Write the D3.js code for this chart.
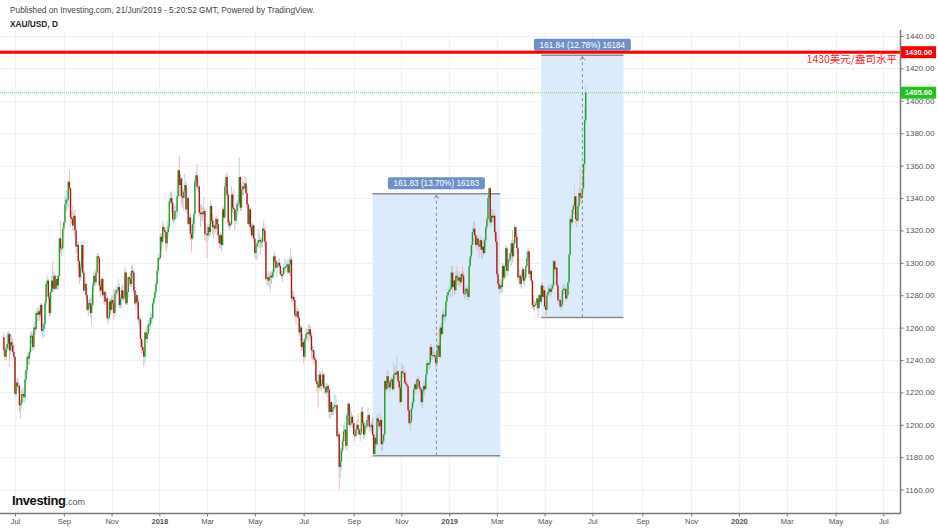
<!DOCTYPE html>
<html><head><meta charset="utf-8">
<script src="https://cdn.jsdelivr.net/npm/d3@7"></script>
<style>
html,body{margin:0;padding:0;background:#fff;}
svg{display:block;font-family:"Liberation Sans",Arial,sans-serif;}
</style></head><body>
<svg id="chart" width="938" height="528"></svg>
<script>
// ---- DATA (daily XAU/USD candles, one line per week Mon..Fri) ----
const startDate = "2017-06-19";
const opens = [
1254,1246,1242,1247,1250, 1256,1246,1251,1249,1245, 1242,1219,1226,1224,1224, 1212,1213,1219,1219,1217,
1228,1234,1242,1241,1245, 1255,1255,1248,1260,1259, 1269,1268,1270,1268,1274, 1258,1259,1262,1275,1287,
1289,1279,1269,1282,1289, 1284,1292,1284,1290,1286, 1292,1315,1309,1309,1321, 1325,1336,1339,1339,1350,
1346,1328,1327,1323,1329, 1320,1310,1311,1301,1291, 1297,1311,1294,1283,1287, 1280,1271,1275,1275,1269,
1274,1286,1292,1288,1294, 1304,1303,1286,1283,1290, 1280,1282,1276,1278,1266, 1266,1276,1271,1277,1275,
1269,1281,1283,1283,1285, 1274,1278,1283,1278,1279, 1294,1275,1282,1291,1290, 1287,1295,1294,1283,1275,
1280,1276,1265,1265,1253, 1248,1246,1242,1257,1253, 1256,1262,1262,1266,1266, 1275,1278,1282,1287,1295,
1303,1303,1316,1313,1322, 1320,1319,1312,1319,1322, 1338,1340,1337,1327,1327, 1332,1332,1341,1357,1348,
1352,1341,1340,1344,1348, 1333,1340,1324,1328,1318, 1315,1324,1330,1350,1354, 1347,1347,1331,1330,1331,
1330,1332,1318,1318,1317, 1322,1319,1335,1326,1322, 1323,1321,1327,1324,1317, 1312,1317,1311,1333,1328,
1347,1353,1342,1325,1323, 1324,1342,1334,1333,1326, 1332,1336,1337,1353,1334, 1345,1347,1346,1349,1343,
1336,1324,1333,1322,1317, 1323,1315,1306,1310,1312, 1314,1314,1313,1313,1321, 1320,1313,1290,1291,1289,
1291,1292,1291,1294,1304, 1301,1297,1299,1300,1298, 1293,1292,1293,1297,1297, 1298,1299,1294,1299,1302,
1278,1279,1277,1268,1267, 1270,1266,1257,1260,1248, 1251,1242,1253,1256,1257, 1256,1259,1255,1246,1246,
1241,1240,1227,1225,1223, 1231,1224,1225,1231,1223, 1223,1220,1224,1222,1208, 1214,1208,1210,1211,1212,
1212,1193,1194,1174,1177, 1184,1190,1196,1197,1187, 1206,1213,1200,1201,1205, 1201,1194,1193,1197,1200,
1197,1194,1195,1208,1201, 1194,1199,1199,1203,1206, 1199,1199,1200,1194,1182, 1192,1188,1204,1202,1199,
1203,1188,1190,1194,1227, 1222,1230,1226,1223,1227, 1228,1222,1231,1232,1231, 1233,1227,1223,1214,1233,
1232,1232,1226,1225,1224, 1209,1201,1202,1210,1214, 1222,1225,1222,1228,1227, 1223,1222,1214,1221,1224,
1222,1231,1238,1237,1238, 1248,1243,1243,1243,1242, 1238,1246,1249,1242,1260, 1256,1268,1267,1267,1276,
1280,1282,1283,1284,1294, 1285,1289,1283,1292,1291, 1289,1291,1288,1293,1292, 1281,1281,1284,1283,1279,
1298,1304,1311,1319,1321, 1317,1311,1315,1311,1310, 1314,1308,1310,1306,1314, 1322,1327,1340,1346,1325,
1329,1328,1329,1319,1313, 1293,1287,1284,1286,1285, 1298,1291,1298,1309,1295, 1302,1302,1306,1312,1304,
1312,1322,1316,1309,1291, 1292,1287,1291,1296,1289, 1291,1298,1303,1307,1293, 1295,1289,1274,1273,1274,
1275,1278,1272,1280,1276, 1286,1279,1283,1273,1271, 1280,1282,1284,1282,1284, 1286,1301,1296,1297,1286,
1277,1277,1273,1274,1283, 1284,1284,1278,1280,1288, 1305,1327,1325,1333,1335, 1341,1327,1326,1335,1343,
1341,1340,1346,1361,1388
];
const highs = [
1257,1249,1250,1257,1258, 1257,1256,1256,1253,1250, 1242,1228,1229,1228,1226, 1215,1222,1223,1222,1233,
1236,1244,1244,1247,1257, 1258,1257,1262,1264,1270, 1272,1273,1271,1275,1275, 1263,1264,1277,1288,1292,
1290,1281,1284,1292,1301, 1295,1293,1292,1292,1293, 1316,1326,1312,1322,1326, 1341,1345,1344,1351,1357,
1346,1332,1335,1331,1333, 1322,1313,1313,1303,1299, 1313,1311,1295,1291,1288, 1281,1277,1278,1278,1281,
1288,1294,1296,1295,1306, 1306,1304,1289,1291,1291, 1283,1283,1282,1279,1268, 1278,1278,1280,1280,1284,
1283,1286,1285,1290,1287, 1280,1285,1287,1283,1297, 1295,1283,1292,1292,1294, 1298,1299,1296,1285,1285,
1281,1278,1268,1266,1253, 1252,1248,1258,1261,1259, 1265,1265,1270,1269,1276, 1279,1284,1289,1296,1306,
1305,1318,1318,1326,1324, 1322,1321,1326,1324,1339, 1344,1344,1340,1335,1336, 1336,1345,1358,1366,1355,
1353,1345,1346,1355,1350, 1346,1341,1331,1330,1323, 1327,1332,1352,1356,1361, 1352,1348,1336,1336,1335,
1341,1334,1320,1323,1324, 1324,1338,1336,1330,1326, 1325,1329,1329,1327,1318, 1319,1318,1335,1334,1349,
1355,1356,1345,1327,1326, 1347,1343,1345,1330,1337, 1339,1342,1365,1352,1348, 1352,1350,1354,1353,1347,
1337,1335,1334,1324,1325, 1324,1315,1311,1313,1321, 1318,1316,1315,1322,1326, 1322,1314,1293,1295,1294,
1294,1295,1296,1305,1307, 1302,1301,1302,1303,1300, 1295,1297,1299,1303,1301, 1302,1301,1303,1309,1304,
1283,1282,1279,1271,1273, 1272,1267,1262,1261,1256, 1253,1254,1259,1260,1262, 1262,1261,1257,1249,1248,
1243,1242,1231,1226,1234, 1233,1228,1234,1232,1226, 1225,1226,1225,1222,1218, 1215,1213,1214,1219,1218,
1213,1198,1195,1186,1186, 1192,1200,1202,1197,1207, 1214,1213,1210,1208,1206, 1201,1200,1201,1204,1207,
1198,1198,1211,1211,1203, 1202,1201,1205,1211,1207, 1201,1203,1205,1196,1193, 1194,1206,1207,1203,1208,
1205,1194,1195,1228,1227, 1234,1233,1228,1229,1230, 1229,1239,1236,1237,1243, 1234,1230,1225,1238,1237,
1237,1234,1233,1228,1225, 1211,1205,1213,1217,1225, 1226,1227,1229,1230,1229, 1225,1223,1224,1227,1227,
1234,1240,1239,1241,1250, 1250,1247,1248,1245,1244, 1248,1251,1259,1262,1263, 1270,1272,1270,1277,1282,
1285,1286,1290,1298,1298, 1294,1290,1295,1298,1295, 1294,1293,1295,1298,1295, 1284,1285,1286,1284,1302,
1305,1313,1322,1326,1325, 1318,1317,1317,1313,1317, 1315,1313,1315,1316,1323, 1329,1342,1347,1347,1333,
1333,1330,1331,1321,1316, 1295,1290,1290,1289,1300, 1299,1299,1311,1310,1303, 1306,1309,1314,1320,1314,
1324,1323,1318,1310,1296, 1293,1293,1298,1297,1294, 1299,1307,1309,1309,1297, 1296,1289,1280,1277,1276,
1279,1277,1281,1281,1288, 1288,1286,1285,1276,1282, 1286,1286,1287,1287,1288, 1302,1302,1300,1298,1288,
1281,1279,1278,1286,1287, 1286,1287,1284,1288,1306, 1329,1329,1336,1337,1348, 1341,1331,1337,1346,1359,
1345,1352,1362,1397,1410
];
const lows = [
1243,1240,1240,1245,1248, 1236,1243,1245,1243,1240, 1218,1217,1221,1220,1208, 1204,1210,1214,1214,1214,
1226,1231,1237,1237,1243, 1250,1246,1246,1255,1257, 1264,1265,1264,1266,1256, 1254,1254,1260,1273,1284,
1277,1267,1267,1281,1282, 1282,1283,1283,1284,1283, 1291,1306,1304,1307,1316, 1323,1331,1332,1334,1344,
1322,1324,1320,1318,1316, 1306,1306,1296,1287,1289, 1295,1293,1282,1281,1277, 1270,1267,1272,1266,1261,
1272,1284,1286,1286,1293, 1299,1282,1279,1281,1278, 1275,1274,1274,1264,1262, 1265,1268,1270,1272,1265,
1267,1273,1280,1281,1272, 1272,1272,1277,1276,1277, 1274,1274,1279,1286,1285, 1285,1290,1281,1274,1270,
1272,1262,1260,1247,1244, 1244,1236,1238,1251,1250, 1256,1258,1259,1263,1264, 1273,1277,1280,1286,1293,
1301,1302,1307,1311,1316, 1315,1307,1309,1316,1321, 1336,1331,1325,1324,1326, 1327,1328,1340,1341,1341,
1336,1334,1332,1340,1331, 1331,1323,1320,1314,1307, 1314,1320,1318,1345,1345, 1344,1329,1322,1326,1326,
1328,1314,1313,1303,1314, 1316,1317,1324,1317,1315, 1318,1319,1321,1315,1309, 1309,1307,1310,1326,1327,
1341,1339,1322,1320,1321, 1323,1331,1330,1320,1324, 1328,1330,1335,1332,1332, 1342,1341,1344,1342,1334,
1323,1322,1320,1316,1315, 1313,1303,1302,1302,1310, 1309,1305,1310,1309,1317, 1310,1289,1286,1286,1285,
1282,1287,1290,1291,1299, 1296,1291,1297,1297,1292, 1290,1288,1291,1295,1294, 1296,1293,1292,1292,1276,
1276,1274,1266,1262,1266, 1265,1255,1252,1246,1246, 1238,1240,1251,1252,1251, 1253,1252,1241,1240,1238,
1237,1226,1220,1211,1221, 1222,1221,1224,1222,1219, 1219,1217,1211,1204,1204, 1206,1206,1206,1209,1207,
1192,1189,1160,1167,1172, 1183,1186,1193,1185,1184, 1202,1199,1198,1199,1198, 1194,1190,1193,1195,1194,
1194,1190,1194,1199,1191, 1192,1196,1197,1202,1196, 1195,1196,1193,1181,1181, 1186,1187,1199,1197,1196,
1184,1184,1188,1193,1217, 1221,1223,1221,1220,1224, 1221,1221,1227,1228,1229, 1226,1221,1212,1214,1229,
1229,1225,1222,1223,1208, 1200,1196,1200,1208,1212, 1220,1219,1221,1226,1221, 1220,1212,1210,1219,1218,
1222,1231,1234,1234,1235, 1240,1240,1241,1239,1235, 1236,1244,1241,1241,1254, 1256,1265,1263,1264,1273,
1278,1279,1279,1284,1279, 1285,1280,1281,1287,1286, 1286,1285,1287,1289,1279, 1278,1277,1280,1277,1277,
1296,1302,1306,1313,1312, 1309,1308,1308,1303,1308, 1303,1302,1304,1305,1310, 1320,1322,1335,1323,1322,
1325,1323,1315,1310,1291, 1284,1281,1281,1282,1281, 1289,1290,1297,1291,1292, 1299,1300,1298,1300,1303,
1311,1313,1306,1289,1287, 1285,1284,1289,1287,1285, 1290,1297,1301,1291,1289, 1287,1272,1271,1270,1273,
1271,1266,1270,1275,1274, 1278,1278,1272,1266,1268, 1279,1280,1279,1279,1282, 1285,1294,1292,1285,1275,
1274,1271,1271,1272,1280, 1281,1276,1277,1279,1287, 1304,1320,1324,1330,1330, 1324,1322,1325,1334,1337,
1336,1339,1344,1357,1386
];
const closes = [
1246,1242,1247,1250,1256, 1246,1251,1249,1245,1242, 1219,1226,1224,1224,1212, 1213,1219,1219,1217,1228,
1234,1242,1241,1245,1255, 1255,1248,1260,1259,1269, 1268,1270,1268,1274,1258, 1259,1262,1275,1287,1289,
1279,1269,1282,1289,1284, 1292,1284,1290,1286,1292, 1315,1309,1309,1321,1325, 1336,1339,1339,1350,1346,
1328,1327,1323,1329,1320, 1310,1311,1301,1291,1297, 1311,1294,1283,1287,1280, 1271,1275,1275,1269,1274,
1286,1292,1288,1294,1304, 1303,1286,1283,1290,1280, 1282,1276,1278,1266,1266, 1276,1271,1277,1275,1269,
1281,1283,1283,1285,1274, 1278,1283,1278,1279,1294, 1275,1282,1291,1290,1287, 1295,1294,1283,1275,1280,
1276,1265,1265,1253,1248, 1246,1242,1257,1253,1256, 1262,1262,1266,1266,1275, 1278,1282,1287,1295,1303,
1303,1316,1313,1322,1320, 1319,1312,1319,1322,1338, 1340,1337,1327,1327,1332, 1332,1341,1357,1348,1352,
1341,1340,1344,1348,1333, 1340,1324,1328,1318,1315, 1324,1330,1350,1354,1347, 1347,1331,1330,1331,1330,
1332,1318,1318,1317,1322, 1319,1335,1326,1322,1323, 1321,1327,1324,1317,1312, 1317,1311,1333,1328,1347,
1353,1342,1325,1323,1324, 1342,1334,1333,1326,1332, 1336,1337,1353,1334,1345, 1347,1346,1349,1343,1336,
1324,1333,1322,1317,1323, 1315,1306,1310,1312,1314, 1314,1313,1313,1321,1320, 1313,1290,1291,1289,1291,
1292,1291,1294,1304,1301, 1297,1299,1300,1298,1293, 1292,1293,1297,1297,1298, 1299,1294,1299,1302,1278,
1279,1277,1268,1267,1270, 1266,1257,1260,1248,1251, 1242,1253,1256,1257,1256, 1259,1255,1246,1246,1241,
1240,1227,1225,1223,1231, 1224,1225,1231,1223,1223, 1220,1224,1222,1208,1214, 1208,1210,1211,1212,1212,
1193,1194,1174,1177,1184, 1190,1196,1197,1187,1206, 1213,1200,1201,1205,1201, 1194,1193,1197,1200,1197,
1194,1195,1208,1201,1194, 1199,1199,1203,1206,1199, 1199,1200,1194,1182,1192, 1188,1204,1202,1199,1203,
1188,1190,1194,1227,1222, 1230,1226,1223,1227,1228, 1222,1231,1232,1231,1233, 1227,1223,1214,1233,1232,
1232,1226,1225,1224,1209, 1201,1202,1210,1214,1222, 1225,1222,1228,1227,1223, 1222,1214,1221,1224,1222,
1231,1238,1237,1238,1248, 1243,1243,1243,1242,1238, 1246,1249,1242,1260,1256, 1268,1267,1267,1276,1280,
1282,1283,1284,1294,1285, 1289,1283,1292,1291,1289, 1291,1288,1293,1292,1281, 1281,1284,1283,1279,1298,
1304,1311,1319,1321,1317, 1311,1315,1311,1310,1314, 1308,1310,1306,1314,1322, 1327,1340,1346,1325,1329,
1328,1329,1319,1313,1293, 1287,1284,1286,1285,1298, 1291,1298,1309,1295,1302, 1302,1306,1312,1304,1312,
1322,1316,1309,1291,1292, 1287,1291,1296,1289,1291, 1298,1303,1307,1293,1295, 1289,1274,1273,1274,1275,
1278,1272,1280,1276,1286, 1279,1283,1273,1271,1280, 1282,1284,1282,1284,1286, 1301,1296,1297,1286,1277,
1277,1273,1274,1283,1284, 1284,1278,1280,1288,1305, 1327,1325,1333,1335,1341, 1327,1326,1335,1343,1341,
1340,1346,1361,1388,1405
];
const yTicks = [1160,1180,1200,1220,1240,1260,1280,1300,1320,1340,1360,1380,1400,1420,1440];
const xTickDates = ["2017-07-03","2017-09-01","2017-11-01","2018-01-01","2018-03-01","2018-05-01","2018-07-02",
  "2018-09-03","2018-11-01","2019-01-01","2019-03-01","2019-05-01","2019-07-01","2019-09-02","2019-11-01",
  "2020-01-01","2020-03-02","2020-05-01","2020-07-01"];
const xTickLabels = ["Jul","Sep","Nov","2018","Mar","May","Jul","Sep","Nov","2019","Mar","May","Jul","Sep","Nov","2020","Mar","May","Jul"];
const levelPrice = 1430;
const levelText = "1430美元/盎司水平";
const lastPrice = 1405;
const rangeFrom  = ["2018-09-26","2019-04-26"];
const rangeTo    = ["2019-03-06","2019-08-08"];
const rangeLow   = [1180.84, 1266.30];
const rangeHigh  = [1342.67, 1428.14];
const rangeLabel = ["161.83 (13.70%) 16183","161.84 (12.78%) 16184"];

// ---- helpers ----
const DAY = 864e5, origin = Date.UTC(2017,6,3);
function wIdx(s){
  const [Y,M,D] = s.split("-").map(Number);
  const days = Math.round((Date.UTC(Y,M-1,D)-origin)/DAY);
  const w = Math.floor(days/7), r = days - w*7;
  return w*5 + Math.min(r,5);
}
const startIdx = wIdx(startDate);
const bars = closes.map((c,i)=>({i:startIdx+i,o:opens[i],h:highs[i],l:lows[i],c:c}));

const W = 938, H = 528;
const axisX = 900.5, axisY = 513.5, plotTop = 30;
const x = d3.scaleLinear().domain([0, wIdx("2020-07-01")]).range([15, 883.3]);
const y = d3.scaleLinear().domain([1160,1440]).range([489.6,36]);

const svg = d3.select("#chart");
svg.append("rect").attr("width",W).attr("height",H).attr("fill","#fff");

// grid
const grid = svg.append("g");
grid.selectAll("line.h").data(yTicks).join("line").attr("class","h")
  .attr("x1",0).attr("x2",axisX).attr("y1",d=>Math.round(y(d))+0.5).attr("y2",d=>Math.round(y(d))+0.5)
  .attr("stroke","#eff1f4").attr("stroke-width",1);
grid.selectAll("line.v").data(xTickDates).join("line").attr("class","v")
  .attr("x1",d=>Math.round(x(wIdx(d)))+0.5).attr("x2",d=>Math.round(x(wIdx(d)))+0.5)
  .attr("y1",plotTop).attr("y2",axisY).attr("stroke","#eff1f4").attr("stroke-width",1);

// range boxes (fill)
const rg = svg.append("g");
rangeFrom.forEach((f,k)=>{
  const x0 = x(wIdx(f)), x1 = x(wIdx(rangeTo[k]));
  rg.append("rect").attr("x",x0).attr("width",x1-x0)
    .attr("y",y(rangeHigh[k])).attr("height",y(rangeLow[k])-y(rangeHigh[k]))
    .attr("fill","#dcebfc");
});

// last price line
svg.append("line").attr("x1",0).attr("x2",axisX).attr("y1",y(lastPrice)).attr("y2",y(lastPrice))
  .attr("stroke","#74d474").attr("stroke-width",1).attr("stroke-dasharray","1,1");

// candles
const bw = 1.4;
const cg = svg.append("g");
cg.selectAll("line").data(bars).join("line")
  .attr("x1",d=>x(d.i)).attr("x2",d=>x(d.i)).attr("y1",d=>y(d.h)).attr("y2",d=>y(d.l))
  .attr("stroke",d=>d.c>=d.o?"#b3d8e4":"#f3b7b7").attr("stroke-width",1);
cg.selectAll("rect").data(bars).join("rect")
  .attr("x",d=>x(d.i)-bw/2).attr("width",bw)
  .attr("y",d=>y(Math.max(d.o,d.c)))
  .attr("height",d=>Math.max(1,Math.abs(y(d.o)-y(d.c))))
  .attr("fill",d=>d.c>=d.o?"#22a022":"#b01818");

// range lines + labels
rangeFrom.forEach((f,k)=>{
  const x0 = x(wIdx(f)), x1 = x(wIdx(rangeTo[k])), xm = (x0+x1)/2;
  const yt = y(rangeHigh[k]), yb = y(rangeLow[k]);
  rg.append("line").attr("x1",x0).attr("x2",x1).attr("y1",yt).attr("y2",yt).attr("stroke","#8c8c8c").attr("stroke-width",1.5);
  rg.append("line").attr("x1",x0).attr("x2",x1).attr("y1",yb).attr("y2",yb).attr("stroke","#8c8c8c").attr("stroke-width",1.5);
  svg.append("line").attr("x1",xm).attr("x2",xm).attr("y1",yt+1).attr("y2",yb)
    .attr("stroke","#8a8a8a").attr("stroke-width",1).attr("stroke-dasharray","3,3");
  svg.append("path").attr("d",`M${xm-2.5},${yt+5}L${xm},${yt+1.5}L${xm+2.5},${yt+5}`)
    .attr("fill","none").attr("stroke","#8a8a8a").attr("stroke-width",1);
  const lw = 97, lh = 12;
  svg.append("rect").attr("x",xm-lw/2).attr("y",yt-4.5-lh).attr("width",lw).attr("height",lh)
    .attr("rx",2).attr("fill","#6e90c8");
  svg.append("text").attr("x",xm).attr("y",yt-4.5-lh/2).attr("dy","0.35em")
    .attr("text-anchor","middle").attr("fill","#fff").attr("font-size",8.2).text(rangeLabel[k]);
});

// red level line
svg.append("line").attr("x1",0).attr("x2",axisX).attr("y1",y(levelPrice)).attr("y2",y(levelPrice))
  .attr("stroke","#ff0000").attr("stroke-width",3);
svg.append("text").attr("x",897).attr("y",y(levelPrice)+11).attr("text-anchor","end")
  .attr("fill","#ff2626").attr("font-size",10.5).attr("font-family","'Noto Sans CJK SC','Liberation Sans',sans-serif")
  .text(levelText);

// axes
const yAxis = d3.axisRight(y).tickValues(yTicks).tickFormat(d3.format(".2f")).tickSize(3).tickPadding(2);
const ya = svg.append("g").attr("transform",`translate(${axisX},0)`).call(yAxis);
ya.select(".domain").remove();
ya.selectAll("line").attr("stroke","#777");
ya.selectAll("text").attr("fill","#555").attr("font-size",8).attr("font-family","'Liberation Sans',Arial,sans-serif");

const xAxis = d3.axisBottom(x).tickValues(xTickDates.map(wIdx)).tickFormat((d,i)=>xTickLabels[i]).tickSize(3).tickPadding(2);
const xa = svg.append("g").attr("transform",`translate(0,${axisY})`).call(xAxis);
xa.select(".domain").remove();
xa.selectAll("line").attr("stroke","#777");
xa.selectAll("text").attr("fill","#555").attr("font-size",7.5).attr("font-family","'Liberation Sans',Arial,sans-serif")
  .attr("font-weight",(d,i)=>/^\d{4}$/.test(xTickLabels[i])?"bold":"normal");

svg.append("line").attr("x1",axisX).attr("x2",axisX).attr("y1",plotTop).attr("y2",axisY+0.5).attr("stroke","#7a7a7a").attr("stroke-width",1.5);
svg.append("line").attr("x1",0).attr("x2",axisX).attr("y1",axisY).attr("y2",axisY).attr("stroke","#7a7a7a").attr("stroke-width",1.5);

// price tags
function tag(v,fill){
  const yy = y(v);
  svg.append("rect").attr("x",axisX+0.5).attr("y",yy-6).attr("width",35).attr("height",12).attr("fill",fill);
  svg.append("text").attr("x",axisX+18).attr("y",yy).attr("dy","0.35em").attr("text-anchor","middle")
    .attr("fill","#fff").attr("font-size",7.5).attr("font-weight","bold").text(d3.format(".2f")(v));
}
tag(levelPrice,"#ff0000");
tag(lastPrice,"#1fc41f");

// header
svg.append("text").attr("x",10).attr("y",13).attr("fill","#444").attr("font-size",8.3)
  .text("Published on Investing.com, 21/Jun/2019 - 5:20:52 GMT, Powered by TradingView.");
svg.append("text").attr("x",10).attr("y",27).attr("fill","#222").attr("font-size",8.3).attr("font-weight","bold")
  .text("XAU/USD, D");

// logo
const logo = svg.append("text").attr("x",12).attr("y",505);
logo.append("tspan").attr("font-size",13).attr("font-weight","bold").attr("fill","#111").attr("letter-spacing","-0.4").text("Investing");
logo.append("tspan").attr("font-size",9).attr("fill","#555").text(".com");
</script>
</body></html>
